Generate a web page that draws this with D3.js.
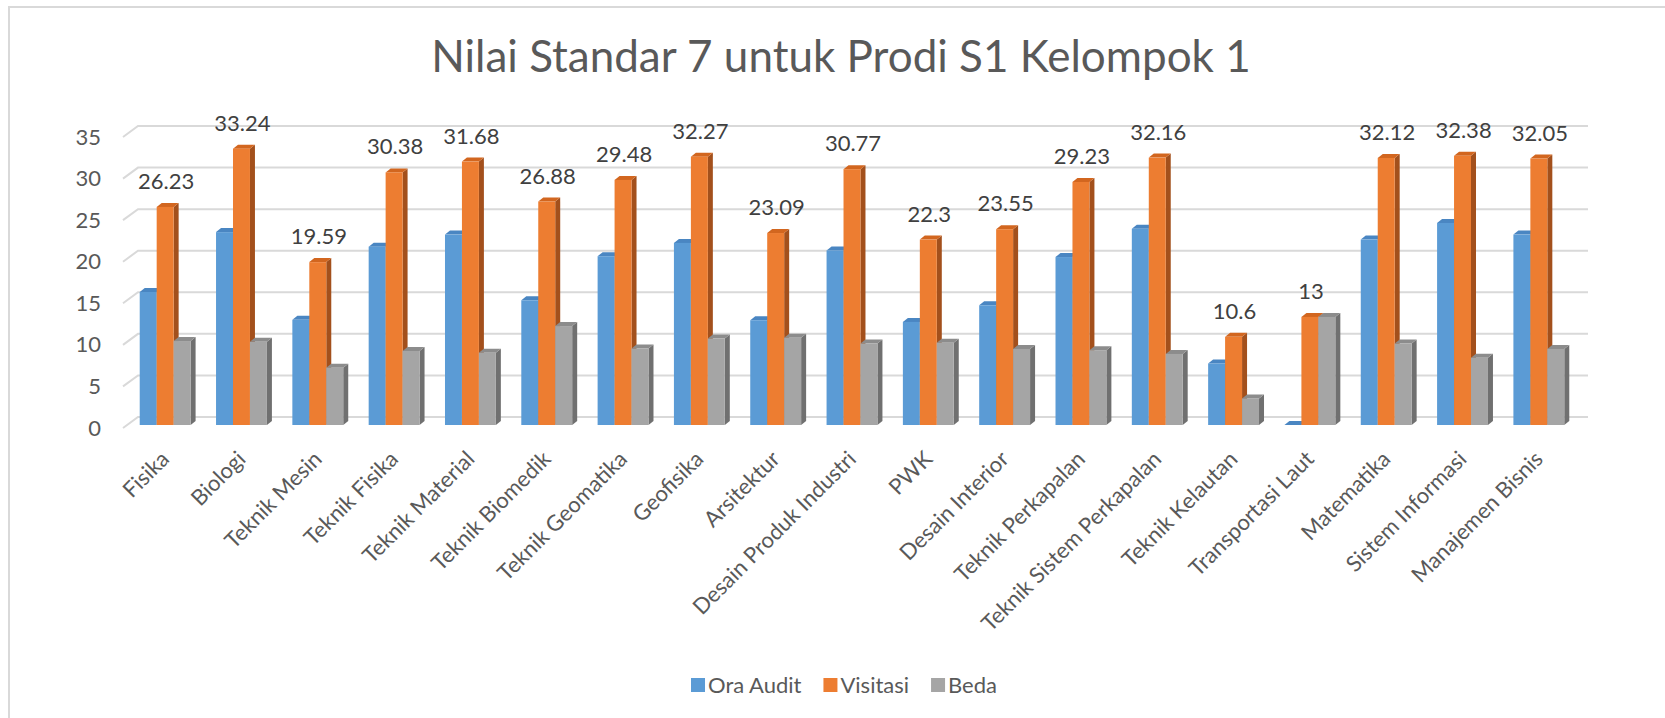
<!DOCTYPE html>
<html>
<head>
<meta charset="utf-8">
<script src="https://cdn.jsdelivr.net/npm/d3@7"></script>
<style>
  body { margin: 0; background: #fff; }
  svg { display: block; font-family: Lato, "Noto Sans", sans-serif; }
</style>
</head>
<body>
<div id="chart"></div>
<script>
// data
const categories = ['Fisika', 'Biologi', 'Teknik Mesin', 'Teknik Fisika', 'Teknik Material',
  'Teknik Biomedik', 'Teknik Geomatika', 'Geofisika', 'Arsitektur', 'Desain Produk Industri',
  'PWK', 'Desain Interior', 'Teknik Perkapalan', 'Teknik Sistem Perkapalan', 'Teknik Kelautan',
  'Transportasi Laut', 'Matematika', 'Sistem Informasi', 'Manajemen Bisnis'];
const oraAudit = [16.0, 23.2, 12.65, 21.45, 22.9, 15.0, 20.3, 21.9, 12.6, 21.0,
  12.4, 14.4, 20.2, 23.6, 7.4, 0, 22.3, 24.3, 22.9];
const visitasi = [26.23, 33.24, 19.59, 30.38, 31.68, 26.88, 29.48, 32.27, 23.09, 30.77,
  22.3, 23.55, 29.23, 32.16, 10.6, 13, 32.12, 32.38, 32.05];
const beda = [10.1, 10.0, 6.9, 8.9, 8.7, 11.9, 9.2, 10.4, 10.5, 9.8,
  9.9, 9.15, 9.0, 8.55, 3.2, 13, 9.8, 8.1, 9.15];
const seriesNames = ['Ora Audit', 'Visitasi', 'Beda'];
const yTicks = [0, 5, 10, 15, 20, 25, 30, 35];

const W = 1665, H = 718;
const textColor = '#595959';
const gridColor = '#d9d9d9';
const colors = [
  { front: '#5B9BD5', top: '#4A86C2', side: '#3E6E9C' },
  { front: '#ED7D31', top: '#D2661F', side: '#A3501C' },
  { front: '#A5A5A5', top: '#8C8C8C', side: '#707070' }
];

const series = seriesNames.map((name, i) => ({
  name, values: [oraAudit, visitasi, beda][i], color: colors[i]
}));

const svg = d3.select('#chart').append('svg')
  .attr('width', W)
  .attr('height', H);

svg.append('rect').attr('width', W).attr('height', H).attr('fill', '#fff');

// chart border (only top and left visible in the original crop)
svg.append('path')
  .attr('d', `M9,${H} L9,7 L${W},7`)
  .attr('fill', 'none')
  .attr('stroke', gridColor)
  .attr('stroke-width', 2);

// front plane of the plot, back wall is shifted by depth
const plotLeft = 123, plotRight = 1573;
const wall = { dx: 15, dy: -11 };   // back wall offset
const barShift = { dx: 4, dy: -3 }; // where bar fronts sit
const barDepth = { dx: 5, dy: -4 }; // top/side face depth

const x = d3.scaleBand()
  .domain(categories)
  .range([plotLeft, plotRight]);

// gap width 150% like Excel
const barW = x.bandwidth() / (3 + 1.5);
const x1 = d3.scaleBand()
  .domain(seriesNames)
  .range([0, x.bandwidth()])
  .paddingOuter(0.75);

const y = d3.scaleLinear()
  .domain([0, 35])
  .range([428, 137]);

// title
svg.append('text')
  .attr('x', 841)
  .attr('y', 72)
  .attr('text-anchor', 'middle')
  .attr('fill', textColor)
  .style('font-size', '44px')
  .text('Nilai Standar 7 untuk Prodi S1 Kelompok 1');

// gridlines on the back wall with the slanted left wall part
svg.append('g')
  .selectAll('path')
  .data(yTicks)
  .join('path')
  .attr('d', d => `M${plotLeft},${y(d)} L${plotLeft + wall.dx},${y(d) + wall.dy} L${plotRight + wall.dx},${y(d) + wall.dy}`)
  .attr('fill', 'none')
  .attr('stroke', gridColor)
  .attr('stroke-width', 2);

// y axis labels
const yAxis = svg.append('g')
  .attr('transform', `translate(${plotLeft - 22},0)`)
  .call(d3.axisLeft(y).tickValues(yTicks).tickSize(0).tickPadding(0));
yAxis.select('.domain').remove();
yAxis.selectAll('text')
  .attr('fill', textColor)
  .style('font-family', 'Lato, "Noto Sans", sans-serif')
  .style('font-size', '22px');

// x axis labels, rotated
const xAxis = svg.append('g')
  .attr('transform', `translate(${barShift.dx},455)`)
  .call(d3.axisBottom(x).tickSize(0).tickPadding(0));
xAxis.select('.domain').remove();
xAxis.selectAll('text')
  .attr('fill', textColor)
  .style('font-family', 'Lato, "Noto Sans", sans-serif')
  .style('font-size', '22px')
  .attr('text-anchor', 'end')
  .attr('dy', '0.35em')
  .attr('transform', 'rotate(-45)');

// 3D bars
const bars = svg.append('g');
categories.forEach((cat, ci) => {
  series.forEach(s => {
    const v = s.values[ci];
    const x0 = x(cat) + x1(s.name) + barShift.dx;
    const yb = y(0) + barShift.dy;
    const yt = y(v) + barShift.dy;
    const g = bars.append('g');
    g.append('path')
      .attr('d', `M${x0 + barW},${yt} L${x0 + barW + barDepth.dx},${yt + barDepth.dy} L${x0 + barW + barDepth.dx},${yb + barDepth.dy} L${x0 + barW},${yb} Z`)
      .attr('fill', s.color.side);
    g.append('path')
      .attr('d', `M${x0},${yt} L${x0 + barW},${yt} L${x0 + barW + barDepth.dx},${yt + barDepth.dy} L${x0 + barDepth.dx},${yt + barDepth.dy} Z`)
      .attr('fill', s.color.top);
    if (v > 0) {
      g.append('rect')
        .attr('x', x0)
        .attr('y', yt)
        .attr('width', barW)
        .attr('height', yb - yt)
        .attr('fill', s.color.front);
    }
  });
});

// data labels only on Visitasi
svg.append('g')
  .selectAll('text')
  .data(categories)
  .join('text')
  .attr('x', (d) => x(d) + x1('Visitasi') + barShift.dx + barW / 2 + 1)
  .attr('y', (d, i) => y(visitasi[i]) + barShift.dy - 18)
  .attr('text-anchor', 'middle')
  .attr('fill', '#404040')
  .style('font-size', '22px')
  .text((d, i) => visitasi[i]);

// legend
const legend = svg.append('g');
let lx = 0;
series.forEach(s => {
  const item = legend.append('g').attr('transform', `translate(${lx},0)`);
  item.append('rect').attr('y', -7).attr('width', 14).attr('height', 14).attr('fill', s.color.front);
  const t = item.append('text')
    .attr('x', 17)
    .attr('dy', '0.36em')
    .attr('fill', textColor)
    .style('font-size', '22px')
    .text(s.name);
  lx += 17 + t.node().getComputedTextLength() + 22;
});
const legendW = lx - 22;
legend.attr('transform', `translate(${844 - legendW / 2},685)`);
</script>
</body>
</html>
